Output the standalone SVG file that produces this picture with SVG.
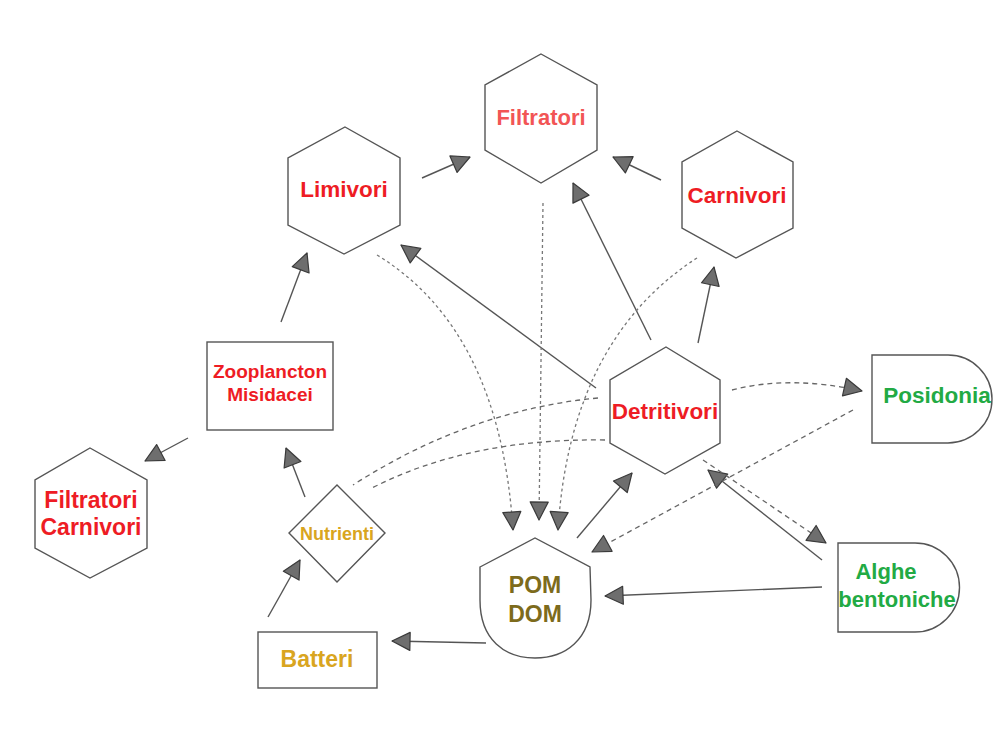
<svg xmlns="http://www.w3.org/2000/svg" width="1001" height="729" viewBox="0 0 1001 729">
<defs>
<marker id="ah" markerUnits="userSpaceOnUse" markerWidth="24" markerHeight="22" refX="18" refY="9" orient="auto" viewBox="-2 -2 24 22">
<path d="M0,0 L18,9 L0,18 Z" fill="#6e6e6e" stroke="#3a3a3a" stroke-width="1.2" stroke-linejoin="round"/>
</marker>
<style>
.shape{fill:#fff;stroke:#555;stroke-width:1.4}
.c{fill:none;stroke:#555;stroke-width:1.4}
.d{fill:none;stroke:#666;stroke-width:1.3;stroke-dasharray:5 4}
.dt{fill:none;stroke:#777;stroke-width:1.3;stroke-dasharray:3 3}
.a{marker-end:url(#ah)}
text{font-family:"Liberation Sans",Arial,sans-serif;font-weight:bold;text-anchor:middle}
.red{fill:#ee1c24}
.lred{fill:#f25555}
.grn{fill:#22aa44}
.gold{fill:#d9a520}
.olive{fill:#7d6b1c}
</style>
</defs>
<rect width="1001" height="729" fill="#fff"/>
<g id="connectors">
<path class="c a" d="M422,178 L470,157"/>
<path class="c a" d="M661,180 L613,157"/>
<path class="c a" d="M651,340 L573,183"/>
<path class="c a" d="M596,388 L401,245"/>
<path class="c a" d="M698,343 L714,267"/>
<path class="c a" d="M281,322 L307,253"/>
<path class="c a" d="M188,438 L145,461"/>
<path class="c a" d="M305,497 L286,448"/>
<path class="c a" d="M268,617 L300,560"/>
<path class="c a" d="M486,643 L392,641"/>
<path class="c a" d="M577,538 L632,473"/>
<path class="c a" d="M822,587 L605,596"/>
<path class="c a" d="M822,560 L708,470"/>
<path class="d a" d="M703,460 L826,543"/>
<path class="d a" d="M732,390 Q790,375 862,391"/>
<path class="d a" d="M853,410 L592,552"/>
<path class="dt a" d="M377,255 Q500,330 513,530"/>
<path class="dt a" d="M543,203 L539,520"/>
<path class="dt a" d="M697,258 Q570,340 558,530"/>
<path class="d" d="M598,398 Q470,410 353,485"/>
<path class="d" d="M605,440 Q470,438 372,488"/>
</g>
<g id="filtratori">
<polygon class="shape" points="541,54 597,85 597,150 541,183 485,150 485,85"/>
<text class="lred" x="541" y="125" font-size="22">Filtratori</text>
</g>
<g id="limivori">
<polygon class="shape" points="345,127 400,158 400,225 344,254 288,225 288,158"/>
<text class="red" x="344" y="197" font-size="22.5">Limivori</text>
</g>
<g id="carnivori">
<polygon class="shape" points="737,131 793,162 793,228 736,258 682,228 682,162"/>
<text class="red" x="737" y="203" font-size="22.5">Carnivori</text>
</g>
<g id="detritivori">
<polygon class="shape" points="666,347 720,380 720,443 665,474 610,443 610,380"/>
<text class="red" x="665" y="419" font-size="22.5">Detritivori</text>
</g>
<g id="posidonia">
<path class="shape" d="M872,355 H948 A44,44 0 0 1 948,443 H872 Z"/>
<text class="grn" x="937" y="403" font-size="22.5">Posidonia</text>
</g>
<g id="alghe">
<path class="shape" d="M838,543 H915 A44.5,44.5 0 0 1 915,632 H838 Z"/>
<text class="grn" x="886" y="579" font-size="22">Alghe</text>
<text class="grn" x="897" y="607" font-size="22">bentoniche</text>
</g>
<g id="pomdom">
<path class="shape" d="M480,567 L535,538 L590,567 L591,600 C591,640 565,658 535,658 C505,658 480,640 480,600 Z"/>
<text class="olive" x="535" y="593" font-size="23">POM</text>
<text class="olive" x="535" y="622" font-size="23">DOM</text>
</g>
<g id="zooplancton">
<rect class="shape" x="207" y="342" width="126" height="88"/>
<text class="red" x="270" y="378" font-size="19">Zooplancton</text>
<text class="red" x="270" y="401" font-size="19">Misidacei</text>
</g>
<g id="nutrienti">
<polygon class="shape" points="337,485 385,533 337,582 289,533"/>
<text class="gold" x="337" y="540" font-size="18">Nutrienti</text>
</g>
<g id="batteri">
<rect class="shape" x="258" y="632" width="119" height="56"/>
<text class="gold" x="317" y="667" font-size="23">Batteri</text>
</g>
<g id="filtratori-carnivori">
<polygon class="shape" points="90,448 147,480 147,548 90,578 35,548 35,480"/>
<text class="red" x="91" y="508" font-size="23">Filtratori</text>
<text class="red" x="91" y="535" font-size="23">Carnivori</text>
</g>
</svg>
